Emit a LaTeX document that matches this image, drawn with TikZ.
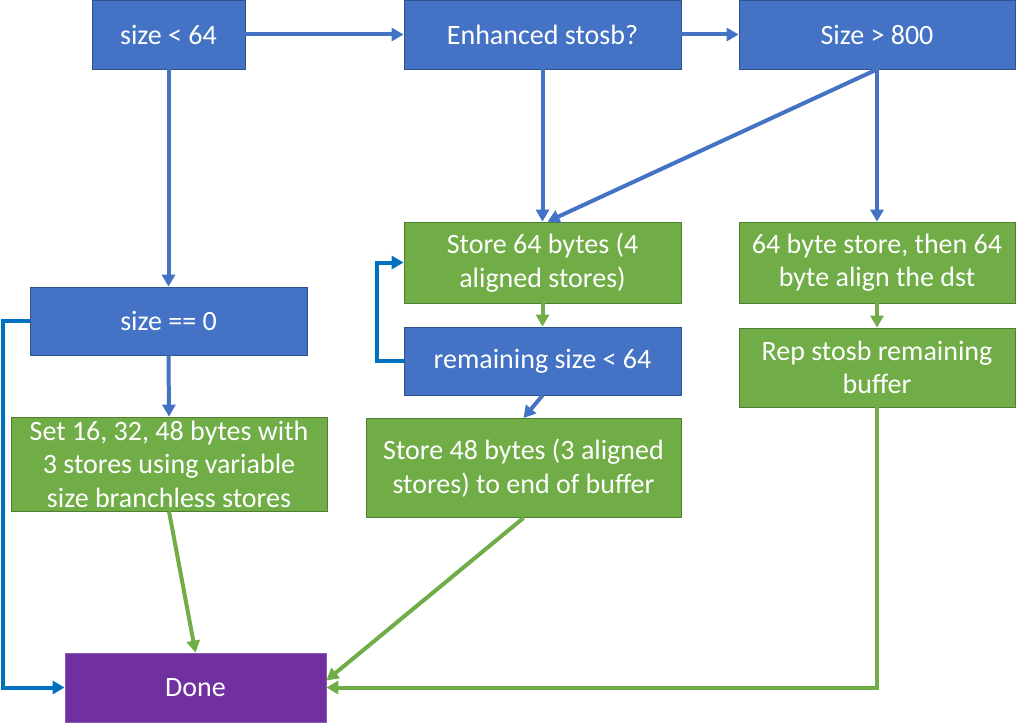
\documentclass[tikz,border=0pt]{standalone}
\usepackage{fontspec}
\setmainfont{Carlito}
\usetikzlibrary{arrows.meta}
\definecolor{bfill}{HTML}{4472C4}
\definecolor{bdraw}{HTML}{2F528F}
\definecolor{gfill}{HTML}{70AD47}
\definecolor{gdraw}{HTML}{507E32}
\definecolor{pfill}{HTML}{7030A0}
\definecolor{lblue}{HTML}{0070C0}
\tikzset{
  box/.style={rectangle, inner sep=0pt, text=white, align=center, line width=0.8pt, font=\fontsize{28}{33.5}\selectfont},
  bluebox/.style={box, fill=bfill, draw=bdraw},
  greenbox/.style={box, fill=gfill, draw=gdraw},
  donebox/.style={box, fill=pfill, draw=pfill!80!white},
  conn/.style={line width=4pt, -{Triangle[length=12pt,width=13pt]}},
  bconn/.style={conn, draw=bfill},
  gconn/.style={conn, draw=gfill},
  lconn/.style={conn, draw=lblue},
}
\begin{document}
\begin{tikzpicture}[x=1pt,y=-1pt]
\useasboundingbox[fill=white] (0,0) rectangle (1024,722);
\node[bluebox, minimum width=153pt, minimum height=69pt] (a) at (168.5,34.5) {size {<} 64};
\node[bluebox, minimum width=277pt, minimum height=69pt] (b) at (542.5,34.5) {Enhanced stosb?};
\node[bluebox, minimum width=276pt, minimum height=69pt] (c) at (877,34.5) {Size {>} 800};
\node[greenbox, minimum width=277pt, minimum height=81pt] (s64) at (542.5,262.5) {Store 64 bytes (4\\aligned stores)};
\node[bluebox, minimum width=277pt, minimum height=68pt] (rem) at (542.5,361) {remaining size {<} 64};
\node[greenbox, minimum width=315pt, minimum height=99pt] (s48) at (523.5,468) {Store 48 bytes (3 aligned\\stores) to end of buffer};
\node[greenbox, minimum width=276pt, minimum height=81pt] (al) at (877,262.5) {64 byte store, then 64\\byte align the dst};
\node[greenbox, minimum width=276pt, minimum height=79pt] (rep) at (877,367.5) {Rep stosb remaining\\buffer};
\node[bluebox, minimum width=277pt, minimum height=68pt] (z) at (168.5,321) {size == 0};
\node[greenbox, minimum width=316pt, minimum height=94pt] (set) at (169,464) {Set 16, 32, 48 bytes with\\3 stores using variable\\size branchless stores};
\node[donebox, minimum width=261pt, minimum height=69pt] (done) at (195.5,687.5) {Done};

\draw[bconn] (a.east) -- (b.west);
\draw[bconn] (b.east) -- (c.west);
\draw[bconn] (a.south) -- (z.north);
\draw[bconn] (b.south) -- (s64.north);
\draw[bconn] (c.south) -- ([xshift=5pt]s64.north);
\draw[bconn] (c.south) -- (al.north);
\draw[gconn] (s64.south) -- (rem.north);
\draw[lconn] (rem.west) -- ++(-27,0) |- (s64.west);
\draw[bconn] (rem.south) -- (s48.north);
\draw[gconn] (al.south) -- (rep.north);
\draw[bconn] (z.south) -- (set.north);
\draw[lconn] (z.west) -- ++(-27,0) |- (done.west);
\draw[gconn] (set.south) -- (done.north);
\draw[gconn] (s48.south) -- ([yshift=7pt]done.east);
\draw[gconn] (rep.south) |- (done.east);
\end{tikzpicture}
\end{document}
